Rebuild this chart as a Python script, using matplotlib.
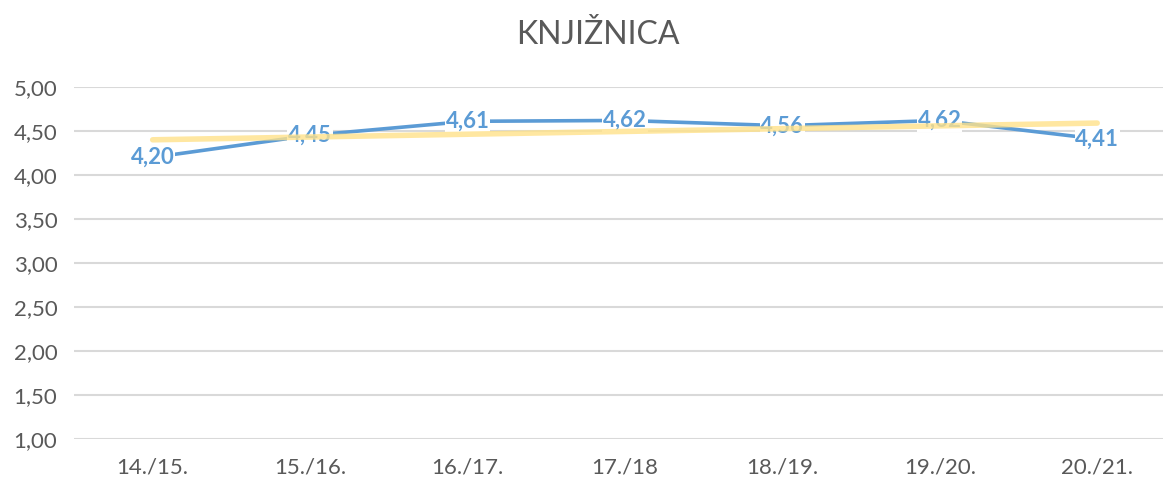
import matplotlib.pyplot as plt

seasons = ["14./15.", "15./16.", "16./17.", "17./18", "18./19.", "19./20.", "20./21."]
values = [4.20, 4.45, 4.61, 4.62, 4.56, 4.62, 4.41]
# linear trend line (Excel), endpoints
trend_x = [0, 6]
trend_y = [4.40, 4.59]
yticks = [1.0, 1.5, 2.0, 2.5, 3.0, 3.5, 4.0, 4.5, 5.0]

blue = "#5B9BD5"
grey = "#595959"

plt.rcParams['font.family'] = ['Lato', 'DejaVu Sans']

fig = plt.figure(figsize=(11.63, 4.86), dpi=100)
ax = fig.add_axes([0.0636, 0.0967, 0.9475, 0.7243])

x = list(range(len(seasons)))
ax.plot(x, values, color=blue, lw=2.6, zorder=3, solid_capstyle='round')

for xi, v in zip(x, values):
    ax.text(xi, v, f"{v:.2f}".replace(".", ","), ha='center', va='center',
            color=blue, fontsize=16, fontweight='bold', zorder=4,
            bbox=dict(facecolor='white', edgecolor='none', pad=0.5))

ax.plot(trend_x, trend_y, color="#FFE28A", lw=4, alpha=0.8, zorder=5,
        solid_capstyle='round')

ax.set_xlim(-0.5, 6.5)
ax.set_ylim(1.0, 5.0)
ax.set_yticks(yticks)
ax.set_yticklabels([f"{t:.2f}".replace(".", ",") for t in yticks])
ax.set_xticks(x)
ax.set_xticklabels(seasons)
ax.tick_params(axis='both', length=0, colors=grey, labelsize=16)
ax.tick_params(axis='x', pad=13)
ax.tick_params(axis='y', pad=12)
ax.grid(axis='y', color="#D9D9D9", lw=1.5)
ax.set_axisbelow(True)
for s in ax.spines.values():
    s.set_visible(False)

fig.text(0.514, 0.928, "KNJIŽNICA", ha='center', va='center', fontsize=23, color=grey)

plt.savefig("out.png", dpi=100)
